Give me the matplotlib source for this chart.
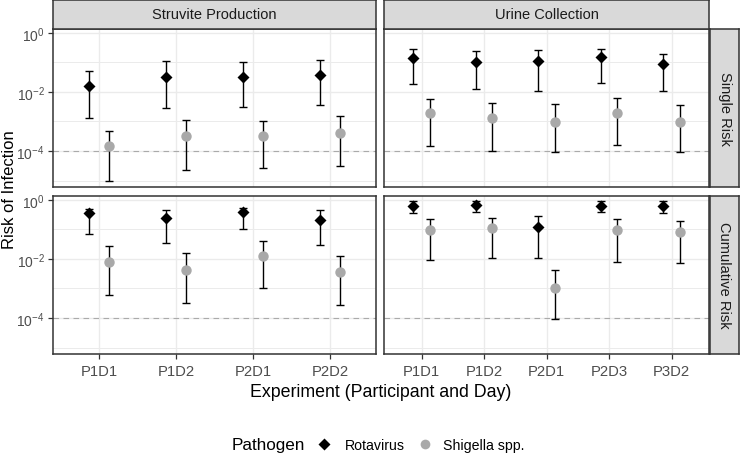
import matplotlib
matplotlib.use("Agg")
import matplotlib.pyplot as plt
import numpy as np

plt.rcParams['font.family'] = ['Liberation Sans', 'DejaVu Sans']

W, H = 740, 456

# ---- data ----
struvite_labels = ["P1D1", "P1D2", "P2D1", "P2D2"]
urine_labels = ["P1D1", "P1D2", "P2D1", "P2D3", "P3D2"]

# Struvite, single risk
sv_single_rota = [0.0158, 0.032, 0.032, 0.038]
sv_single_rota_lo = [0.0013, 0.0028, 0.0031, 0.0037]
sv_single_rota_hi = [0.053, 0.11, 0.10, 0.12]
sv_single_shig = [1.44e-4, 3.2e-4, 3.2e-4, 4.1e-4]
sv_single_shig_lo = [9.8e-6, 2.3e-5, 2.6e-5, 3.1e-5]
sv_single_shig_hi = [4.9e-4, 1.15e-3, 1.03e-3, 1.5e-3]

# Struvite, cumulative risk
sv_cum_rota = [0.35, 0.24, 0.40, 0.215]
sv_cum_rota_lo = [0.07, 0.035, 0.10, 0.030]
sv_cum_rota_hi = [0.50, 0.44, 0.55, 0.44]
sv_cum_shig = [8.1e-3, 4.2e-3, 0.013, 3.5e-3]
sv_cum_shig_lo = [6.2e-4, 3.2e-4, 1.0e-3, 2.8e-4]
sv_cum_shig_hi = [0.028, 0.016, 0.041, 0.013]

# Urine, single risk
uc_single_rota = [0.143, 0.105, 0.116, 0.158, 0.092]
uc_single_rota_lo = [0.018, 0.0125, 0.0104, 0.020, 0.0104]
uc_single_rota_hi = [0.29, 0.24, 0.26, 0.29, 0.20]
uc_single_shig = [1.87e-3, 1.31e-3, 9.5e-4, 1.87e-3, 9.5e-4]
uc_single_shig_lo = [1.48e-4, 1.0e-4, 8.9e-5, 1.6e-4, 8.9e-5]
uc_single_shig_hi = [5.9e-3, 4.3e-3, 3.9e-3, 6.3e-3, 3.6e-3]

# Urine, cumulative risk
uc_cum_rota = [0.64, 0.69, 0.12, 0.64, 0.64]
uc_cum_rota_lo = [0.36, 0.40, 0.0105, 0.38, 0.36]
uc_cum_rota_hi = [0.93, 0.93, 0.29, 0.90, 0.90]
uc_cum_shig = [0.094, 0.112, 1.0e-3, 0.094, 0.080]
uc_cum_shig_lo = [9.0e-3, 0.0108, 9.3e-5, 8.1e-3, 7.3e-3]
uc_cum_shig_hi = [0.22, 0.24, 4.1e-3, 0.22, 0.20]

threshold = 1e-4

fig = plt.figure(figsize=(W / 100, H / 100), dpi=100)

def fx(px):
    return px / W

def fy(py):
    return 1 - py / H

# panel pixel boxes
cols = [(53, 376), (384, 709)]
rows = [(29.5, 188.0), (196.5, 355.0)]
strip_right = (710, 739)

panels = {
    (0, 0): (struvite_labels, sv_single_rota, sv_single_rota_lo, sv_single_rota_hi,
             sv_single_shig, sv_single_shig_lo, sv_single_shig_hi),
    (0, 1): (urine_labels, uc_single_rota, uc_single_rota_lo, uc_single_rota_hi,
             uc_single_shig, uc_single_shig_lo, uc_single_shig_hi),
    (1, 0): (struvite_labels, sv_cum_rota, sv_cum_rota_lo, sv_cum_rota_hi,
             sv_cum_shig, sv_cum_shig_lo, sv_cum_shig_hi),
    (1, 1): (urine_labels, uc_cum_rota, uc_cum_rota_lo, uc_cum_rota_hi,
             uc_cum_shig, uc_cum_shig_lo, uc_cum_shig_hi),
}

border = '#333333'
gridc = '#EBEBEB'
tickc = '#4D4D4D'
stripc = '#D9D9D9'
dodge = 0.13

for (r, c), (labels, rv, rlo, rhi, sv, slo, shi) in panels.items():
    x0, x1 = cols[c]
    y0, y1 = rows[r]
    ax = fig.add_axes([fx(x0), fy(y1), fx(x1 - x0), (y1 - y0) / H])
    ax.set_yscale('log')
    n = len(labels)
    x = np.arange(1, n + 1)
    ax.set_xlim(0.4, n + 0.6)
    ax.set_ylim(10 ** -5.22, 10 ** 0.15)
    ax.set_yticks([1, 1e-2, 1e-4])
    ax.set_yticks([1e-1, 1e-3, 1e-5], minor=True)
    ax.yaxis.set_minor_formatter(matplotlib.ticker.NullFormatter())
    ax.set_xticks(x)
    ax.grid(True, which='major', color=gridc, lw=1.0, zorder=0)
    ax.grid(True, which='minor', axis='y', color=gridc, lw=0.7, zorder=0)
    ax.set_axisbelow(True)
    ax.axhline(threshold, color='#AAAAAA', lw=0.8, ls=(0, (5, 4)), zorder=1)

    rv = np.array(rv); sv_ = np.array(sv)
    ax.errorbar(x - dodge, rv, yerr=[rv - np.array(rlo), np.array(rhi) - rv],
                fmt='none', ecolor='black', elinewidth=1.0, capsize=3, capthick=1.0, zorder=2)
    ax.errorbar(x + dodge, sv_, yerr=[sv_ - np.array(slo), np.array(shi) - sv_],
                fmt='none', ecolor='black', elinewidth=1.0, capsize=3, capthick=1.0, zorder=2)
    ax.plot(x - dodge, rv, 'D', color='black', ms=6.5, mec='none', zorder=3)
    ax.plot(x + dodge, sv_, 'o', color='#A9A9A9', ms=7.5, mec='none', zorder=3)

    for s in ax.spines.values():
        s.set_color(border)
        s.set_linewidth(1.1)
    ax.tick_params(axis='both', which='both', color=border, length=3.5, width=0.9,
                   labelcolor=tickc)
    ax.tick_params(axis='y', labelsize=10, pad=2.5)
    ax.tick_params(axis='x', labelsize=10.7)
    ax.tick_params(axis='y', which='minor', length=0)
    if c == 1:
        ax.tick_params(axis='y', which='both', left=False, labelleft=False)
    if r == 0:
        ax.tick_params(axis='x', which='both', bottom=False, labelbottom=False)
    else:
        ax.set_xticklabels(labels)
        ax.tick_params(axis='x', pad=4)

# top strips
strip_titles = ["Struvite Production", "Urine Collection"]
for c, title in enumerate(strip_titles):
    x0, x1 = cols[c]
    sax = fig.add_axes([fx(x0), fy(29.5), fx(x1 - x0), 29.0 / H])
    sax.set_facecolor(stripc)
    sax.set_xticks([]); sax.set_yticks([])
    for s in sax.spines.values():
        s.set_color(border); s.set_linewidth(1.1)
    sax.text(0.5, 0.5, title, ha='center', va='center', fontsize=10.5,
             color='#1A1A1A', transform=sax.transAxes)

# right strips
row_titles = ["Single Risk", "Cumulative Risk"]
for r, title in enumerate(row_titles):
    y0, y1 = rows[r]
    sax = fig.add_axes([fx(strip_right[0]), fy(y1), fx(strip_right[1] - strip_right[0]), (y1 - y0) / H])
    sax.set_facecolor(stripc)
    sax.set_xticks([]); sax.set_yticks([])
    for s in sax.spines.values():
        s.set_color(border); s.set_linewidth(1.1)
    sax.text(0.5, 0.5, title, ha='center', va='center', fontsize=10.5, rotation=-90,
             color='#1A1A1A', transform=sax.transAxes)

# axis titles
fig.text(fx(10), fy(190), "Risk of Infection", rotation=90, ha='center', va='center',
         fontsize=12, color='black')
fig.text(fx(381), fy(393), "Experiment (Participant and Day)", ha='center', va='center',
         fontsize=12.8, color='black')

# legend
fig.text(fx(232), fy(446), "Pathogen", ha='left', va='center', fontsize=12.3, color='black')
leg_ax = fig.add_axes([0, 0, 1, 1], facecolor='none')
leg_ax.set_xlim(0, W); leg_ax.set_ylim(H, 0)
leg_ax.axis('off')
leg_ax.plot([324], [445], 'D', color='black', ms=6, mec='none')
leg_ax.text(345, 446, "Rotavirus", ha='left', va='center', fontsize=10.2, color='black')
leg_ax.plot([425], [445], 'o', color='#A9A9A9', ms=7, mec='none')
leg_ax.text(443, 446, "Shigella spp.", ha='left', va='center', fontsize=10.2, color='black')

fig.savefig("out.png", dpi=100)
